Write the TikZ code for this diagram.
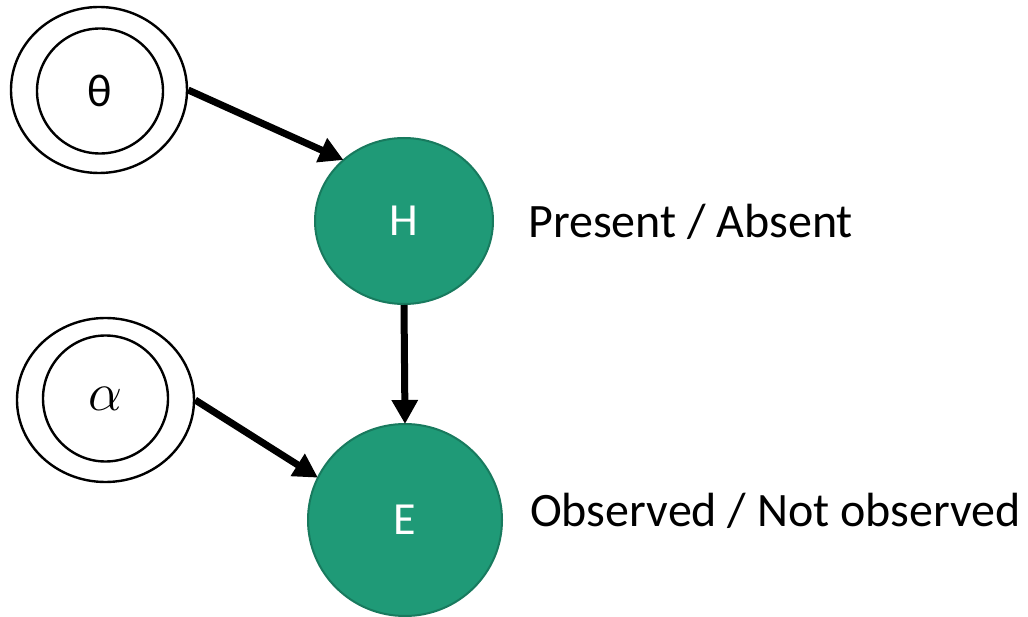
\documentclass[tikz,border=0pt]{standalone}
\usepackage{fix-cm}
\usepackage{fontspec}
\setmainfont{Carlito}
\usetikzlibrary{arrows.meta,shapes.geometric}
\definecolor{nodegreen}{HTML}{1F9A77}
\definecolor{nodeedge}{HTML}{187A5E}
\tikzset{
  oval/.style={ellipse, inner sep=0pt},
  outerring/.style={oval, draw=black, line width=2.4pt},
  innerring/.style={oval, draw=black, line width=2.4pt},
  latent/.style={oval, draw=nodeedge, line width=2pt, fill=nodegreen,
    text=white, font=\fontsize{46}{52}\selectfont},
  statelabel/.style={anchor=base west, inner sep=0pt, font=\fontsize{48}{54}\selectfont},
  edge/.style={line width=7pt, -{Triangle[length=24pt,width=25pt]}, shorten >=-1pt}
}
\begin{document}
\begin{tikzpicture}[x=1pt,y=-1pt]
  \useasboundingbox (0,0) rectangle (1028,617);

  % hyperparameter theta
  \node[outerring, minimum width=176pt, minimum height=166pt] (thetaO) at (99,90) {};
  \node[innerring, minimum width=126pt, minimum height=125pt] (theta) at (100,91)
    {\fontsize{46}{52}\selectfont θ};

  % hyperparameter alpha
  \node[outerring, minimum width=177pt, minimum height=164pt] (alphaO) at (105.5,400) {};
  \node[innerring, minimum width=125pt, minimum height=126pt] (alpha) at (105.5,398.5)
    {\fontsize{54}{60}\selectfont$\alpha$};

  % latent and evidence variables
  \node[latent, minimum width=178pt, minimum height=166pt] (H) at (404,221) {H};
  \node[latent, minimum width=194pt, minimum height=192pt] (E) at (405,520) {E};

  % state labels
  \node[statelabel] (Hlab) at (528,238) {Present / Absent};
  \node[statelabel] (Elab) at (530,526) {Observed / Not observed};

  % dependencies
  \draw[edge] (thetaO.east) -- (H.135);
  \draw[edge] (H.south) -- (E.north);
  \draw[edge] (alphaO.east) -- (E.154);
\end{tikzpicture}
\end{document}
